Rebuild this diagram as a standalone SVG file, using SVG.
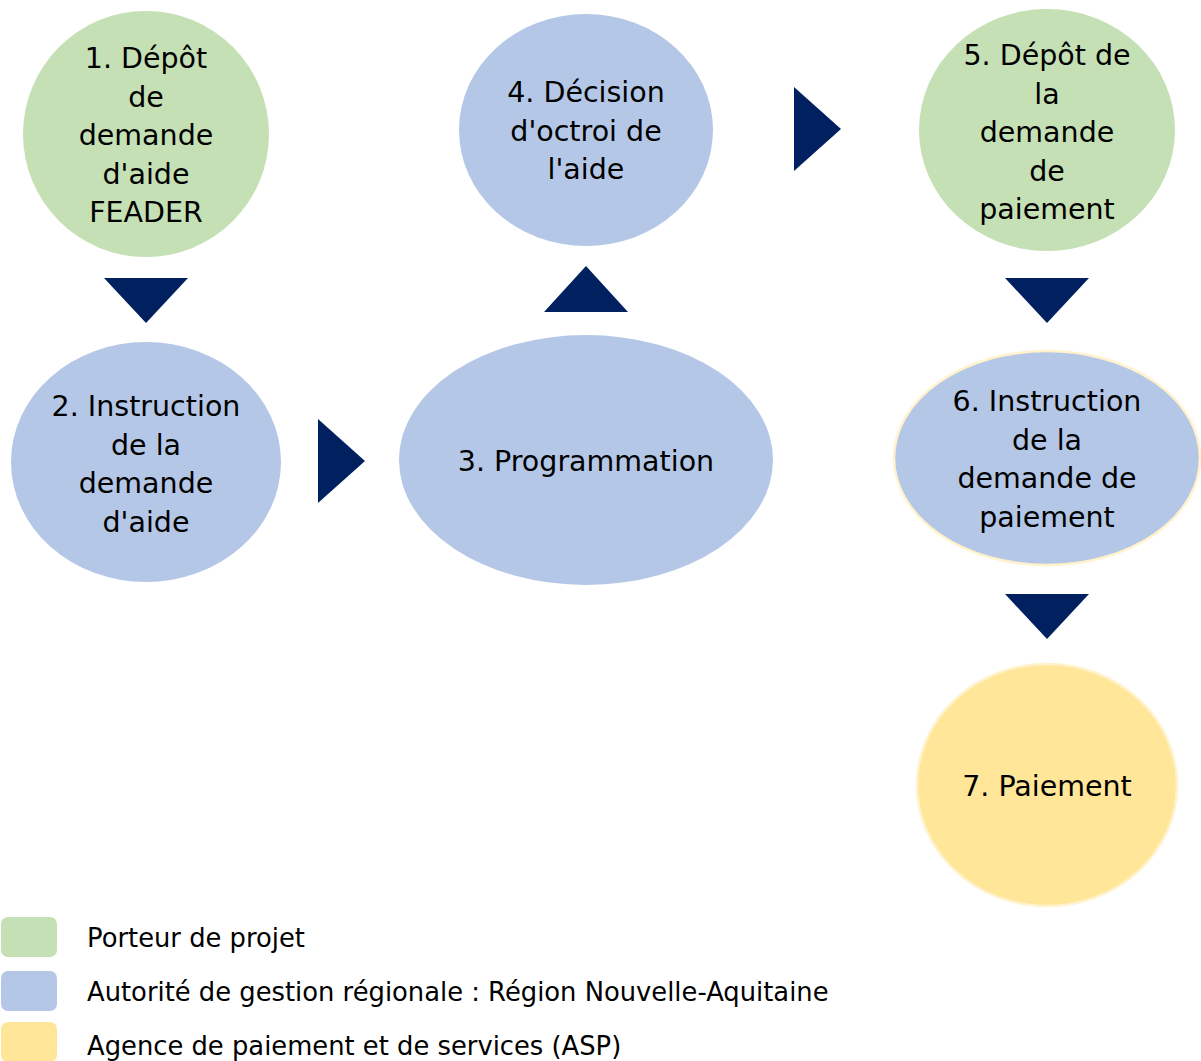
<svg xmlns="http://www.w3.org/2000/svg" width="1201" height="1061" viewBox="0 0 1201 1061">
<style>
.green{fill:#C5E0B4}
.blue{fill:#B4C7E7}
.yellow{fill:#FFE699}
.edge{stroke:#FFF2CC;stroke-width:2.5}
.arrow{fill:#002060}
text{font-family:"DejaVu Sans","Liberation Sans",sans-serif;fill:#000}
.n{font-size:28.5px;text-anchor:middle}
.l{font-size:25.8px}
</style>
<rect width="1201" height="1061" fill="#fff"/>
<g id="connectors">
<polygon class="arrow" points="104,278 188,278 146,323"/>
<polygon class="arrow" points="318,419 318,503 365,461"/>
<polygon class="arrow" points="544,312 628,312 586,266"/>
<polygon class="arrow" points="794,87 794,171 841,129"/>
<polygon class="arrow" points="1005,278 1089,278 1047,323"/>
<polygon class="arrow" points="1005,594 1089,594 1047,639"/>
</g>
<g id="node1">
<ellipse class="green" cx="146" cy="134" rx="123" ry="123"/>
<text class="n"><tspan x="146" y="68">1. Dépôt</tspan><tspan x="146" y="106.5">de</tspan><tspan x="146" y="145">demande</tspan><tspan x="146" y="183.5">d'aide</tspan><tspan x="146" y="222">FEADER</tspan></text>
</g>
<g id="node2">
<ellipse class="blue" cx="146" cy="462" rx="135" ry="120"/>
<text class="n"><tspan x="146" y="416">2. Instruction</tspan><tspan x="146" y="454.5">de la</tspan><tspan x="146" y="493">demande</tspan><tspan x="146" y="531.5">d'aide</tspan></text>
</g>
<g id="node3">
<ellipse class="blue" cx="586" cy="460" rx="187" ry="125"/>
<text class="n" x="586" y="471">3. Programmation</text>
</g>
<g id="node4">
<ellipse class="blue" cx="586" cy="130" rx="127" ry="116"/>
<text class="n"><tspan x="586" y="102">4. Décision</tspan><tspan x="586" y="140.5">d'octroi de</tspan><tspan x="586" y="179">l'aide</tspan></text>
</g>
<g id="node5">
<ellipse class="green" cx="1047" cy="130" rx="128" ry="121"/>
<text class="n"><tspan x="1047" y="65">5. Dépôt de</tspan><tspan x="1047" y="103.5">la</tspan><tspan x="1047" y="142">demande</tspan><tspan x="1047" y="180.5">de</tspan><tspan x="1047" y="219">paiement</tspan></text>
</g>
<g id="node6">
<ellipse class="blue edge" cx="1047" cy="458" rx="153" ry="107"/>
<text class="n"><tspan x="1047" y="411">6. Instruction</tspan><tspan x="1047" y="449.5">de la</tspan><tspan x="1047" y="488">demande de</tspan><tspan x="1047" y="526.5">paiement</tspan></text>
</g>
<g id="node7">
<ellipse class="yellow edge" cx="1047" cy="785" rx="130" ry="121"/>
<text class="n" x="1047" y="796">7. Paiement</text>
</g>
<g id="legend">
<rect class="green" x="1" y="917" width="56" height="40" rx="7"/>
<rect class="blue" x="1" y="971" width="56" height="40" rx="7"/>
<rect class="yellow" x="1" y="1022" width="56" height="40" rx="7"/>
<text class="l" x="87" y="947">Porteur de projet</text>
<text class="l" x="87" y="1001">Autorité de gestion régionale : Région Nouvelle-Aquitaine</text>
<text class="l" x="87" y="1055">Agence de paiement et de services (ASP)</text>
</g>
</svg>
